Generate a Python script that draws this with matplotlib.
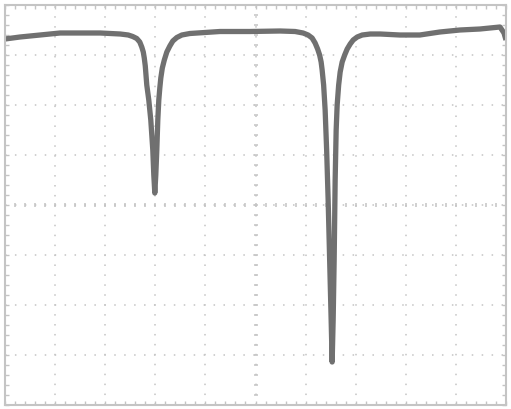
import numpy as np
import matplotlib
matplotlib.use("Agg")
import matplotlib.pyplot as plt

# 화면 눈금 (가로 10칸, 세로 8칸)
n_div_x = 10
n_div_y = 8

# 트레이스 값 (칸 단위로 읽은 값)
trace_x = [0.00, 0.30, 0.70, 1.10, 1.50, 1.90,
           2.30, 2.46, 2.55, 2.63, 2.69, 2.73, 2.76, 2.78, 2.80, 2.83, 2.87, 2.91,
           2.95, 2.97, 2.99,
           3.01, 3.03, 3.05, 3.07, 3.09, 3.11, 3.14, 3.18, 3.23, 3.29, 3.35, 3.43,
           3.53, 3.69,
           4.29, 4.89, 5.49, 5.79,
           5.95, 6.05, 6.13, 6.19, 6.24, 6.28, 6.31, 6.33, 6.36, 6.39, 6.42, 6.45,
           6.48, 6.51, 6.53,
           6.55, 6.57, 6.58, 6.59, 6.61, 6.63, 6.66, 6.69, 6.73, 6.78, 6.83, 6.89,
           6.95, 7.03, 7.13, 7.29,
           7.49, 7.88, 8.28, 8.68, 9.08, 9.48, 9.88, 9.96, 10.00]
trace_y = [7.32, 7.36, 7.40, 7.44, 7.44, 7.44,
           7.42, 7.40, 7.37, 7.33, 7.26, 7.16, 7.06, 6.94, 6.78, 6.40, 6.10, 5.70,
           5.10, 4.60, 4.24,
           4.60, 5.10, 5.70, 6.10, 6.34, 6.54, 6.74, 6.90, 7.06, 7.18, 7.28, 7.35,
           7.40, 7.43,
           7.47, 7.47, 7.48, 7.47,
           7.44, 7.40, 7.34, 7.24, 7.12, 7.00, 6.86, 6.70, 6.40, 5.90, 5.10, 4.10,
           2.90, 1.70, 0.86,
           1.70, 2.90, 3.70, 4.50, 5.50, 6.00, 6.40, 6.66, 6.86, 7.00, 7.12, 7.22,
           7.30, 7.36, 7.40, 7.42,
           7.42, 7.40, 7.40, 7.46, 7.50, 7.52, 7.56, 7.44, 7.30]

grid_col = '#c4c4c4'
trace_col = '#707070'

fig = plt.figure(figsize=(5.11, 4.09), dpi=100)
ax = fig.add_axes([5 / 511, 4 / 409, 501 / 511, 400 / 409])

ax.set_xlim(0, n_div_x)
ax.set_ylim(0, n_div_y)

# 점선 격자
ax.set_xticks(np.arange(0, n_div_x + 1, 1))
ax.set_yticks(np.arange(0, n_div_y + 1, 1))
ax.set_xticks(np.arange(0, n_div_x + 0.01, 0.2), minor=True)
ax.set_yticks(np.arange(0, n_div_y + 0.01, 0.2), minor=True)
ax.grid(True, which='major', color=grid_col, linewidth=1.1, linestyle=(0, (1, 5.5)))

# 중앙 십자선의 작은 눈금
ax.plot(np.arange(0, n_div_x + 0.01, 0.2), np.full(51, n_div_y / 2), linestyle='none',
        marker='|', markersize=3.5, markeredgewidth=1.1, color=grid_col)
ax.plot(np.full(41, n_div_x / 2), np.arange(0, n_div_y + 0.01, 0.2), linestyle='none',
        marker='_', markersize=3.5, markeredgewidth=1.1, color=grid_col)

ax.tick_params(which='both', direction='in', length=3, width=1, color=grid_col,
               top=True, right=True, labelbottom=False, labelleft=False)
for s in ax.spines.values():
    s.set_color(grid_col)
    s.set_linewidth(1.5)

# 트레이스
ax.plot(trace_x, trace_y, color=trace_col, linewidth=3.8, solid_joinstyle='round',
        solid_capstyle='butt')

fig.savefig('out.png', dpi=100)
